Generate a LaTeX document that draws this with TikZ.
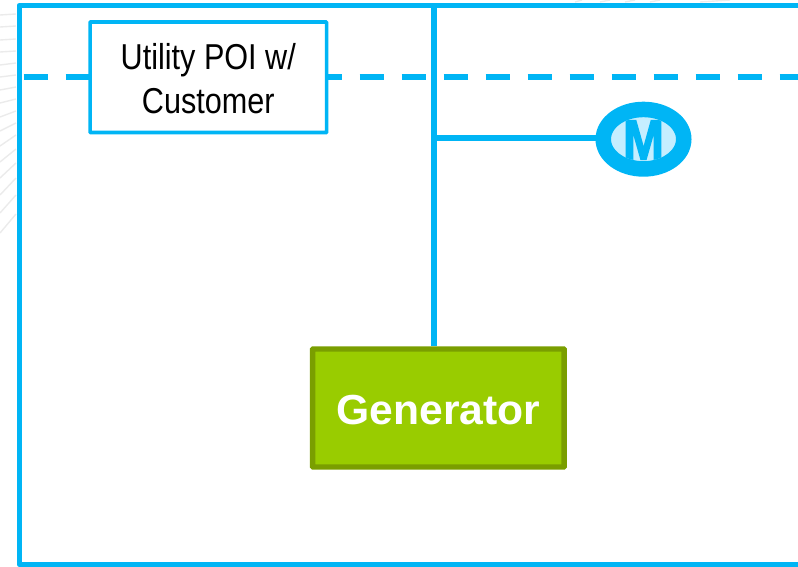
\documentclass[tikz,border=0pt]{standalone}
\usepackage{fontspec}
\setmainfont{Liberation Sans}
\usetikzlibrary{shapes.geometric}
\definecolor{lineblue}{HTML}{00B5F5}
\definecolor{paleblue}{HTML}{C5EEFF}
\definecolor{genfill}{HTML}{99CC00}
\definecolor{genedge}{HTML}{7A9E00}
\tikzset{
  wire/.style={draw=lineblue,line width=5.4pt},
  poibox/.style={draw=lineblue,line width=3.6pt,fill=white,rounded corners=0.6pt,minimum width=236.5pt,minimum height=110.5pt,inner sep=0pt,align=center},
  genbox/.style={draw=genedge,fill=genfill,line width=5.4pt,rounded corners=0.6pt,minimum width=251.5pt,minimum height=118pt,inner sep=0pt,text=white},
  meterring/.style={ellipse,draw=lineblue,fill=paleblue,line width=15.5pt,minimum width=80.5pt,minimum height=59.5pt,inner sep=0pt},
  streak/.style={draw=black!8,line width=1.4pt}
}
\begin{document}
\begin{tikzpicture}[x=1pt,y=-1pt]
\useasboundingbox (0,0) rectangle (798,567);
% faint background streaks
\foreach \a/\b in {15/14,27/26,40/39,52/51,65/63,77/75,90/87,103/99,117/111,131/123,146/135,162/149,178/163,195/178,213/195,233/214}{
  \draw[streak] (0,\a) -- (16,\b);
}
\foreach \a/\b in {575/582,600/610,625/635,650/660,700/730}{
  \draw[streak] (\a,2) -- (\b,0);
}
% outer frame (runs off the right edge)
\draw[wire,line join=round] (806,5.4) -- (19.3,5.4) -- (19.3,564.4) -- (806,564.4);
% dashed line
\coordinate (dashL) at (23.5,77);
\coordinate (dashR) at (806,77);
\draw[wire,dash pattern=on 24.3pt off 17.7pt] (dashL) -- (dashR);
\node[poibox] (poi) at (208.3,77.3) {};
\node[font=\fontsize{36}{44}\selectfont,align=center] (poitext) at (208.3,78.5) {\scalebox{0.85}[1]{Utility POI w/}\\[-0.5pt]\scalebox{0.85}[1]{Customer}};
% generator
\node[genbox,font=\bfseries\fontsize{42}{50}\selectfont] (gen) at (438.3,408) {\raisebox{-16pt}[0pt][0pt]{\scalebox{1.015}[1]{Generator}}};
% meter
\node[meterring] (meter) at (643.5,139.2) {};
% bus and branch
\coordinate (top) at (434,5.4);
\coordinate (tee) at (434,138);
\draw[wire] (top) -- (tee |- gen.north);
\draw[wire] (tee) -- (meter.west |- tee);
\begin{scope}
\clip (643.5,139.2) ellipse [x radius=32.4pt,y radius=21.8pt];
\node[text=lineblue,font=\bfseries\fontsize{56}{60}\selectfont,inner sep=0pt] (mtext) at (643.5,140) {\special{pdf:code 2 Tr 1.6 w}\scalebox{0.88}[1]{M}\special{pdf:code 0 Tr 1 w}};
\end{scope}
\end{tikzpicture}
\end{document}
